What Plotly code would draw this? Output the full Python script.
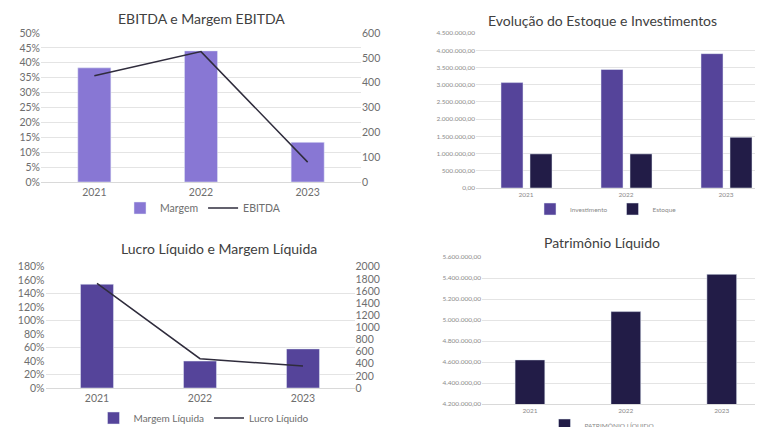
import plotly.graph_objects as go

W, H = 763, 427

# ---- data ----
years = ["2021", "2022", "2023"]
margem_ebitda = [0.383, 0.44, 0.133]
ebitda = [428, 525, 80]

investimento = [3060000, 3440000, 3900000]
estoque = [990000, 990000, 1470000]

margem_liquida = [1.54, 0.40, 0.58]
lucro_liquido = [1726, 483, 363]

patrimonio = [4620000, 5080000, 5435000]

pct_ticks_1 = [i / 100 for i in range(0, 55, 5)]
pct_ticks_3 = [i / 100 for i in range(0, 200, 20)]

OFF = 8  # page body margin


def px(x):
    return (x - OFF) / W


def py(y):
    return 1 - (y - OFF) / H


GRID = "#e4e4e4"
TICK = "#6e6e6e"
TITLE = "#404040"
FONT = "Lato"

C_LIGHT = "#8877d4"
C_MID = "#55449a"
C_DARK = "#221c47"
C_LINE = "#2f2c3c"

fig = go.Figure()

# Chart 1
fig.add_trace(go.Bar(x=years, y=margem_ebitda, name="Margem", marker_color=C_LIGHT,
                     width=0.31, xaxis="x", yaxis="y", legend="legend"))
fig.add_trace(go.Scatter(x=years, y=ebitda, name="EBITDA", mode="lines",
                         line=dict(color=C_LINE, width=1.5), xaxis="x", yaxis="y2", legend="legend"))

# Chart 2
fig.add_trace(go.Bar(x=years, y=investimento, name="Investimento", marker_color=C_MID,
                     width=0.22, offset=-0.25, xaxis="x2", yaxis="y3", legend="legend2"))
fig.add_trace(go.Bar(x=years, y=estoque, name="Estoque", marker_color=C_DARK,
                     width=0.22, offset=0.04, xaxis="x2", yaxis="y3", legend="legend2"))

# Chart 3
fig.add_trace(go.Bar(x=years, y=margem_liquida, name="Margem Líquida", marker_color=C_MID,
                     width=0.32, xaxis="x3", yaxis="y4", legend="legend3"))
fig.add_trace(go.Scatter(x=years, y=lucro_liquido, name="Lucro Líquido", mode="lines",
                         line=dict(color=C_LINE, width=1.5), xaxis="x3", yaxis="y5", legend="legend3"))

# Chart 4
fig.add_trace(go.Bar(x=years, y=patrimonio, name="PATRIMÔNIO LÍQUIDO", marker_color=C_DARK,
                     width=0.31, xaxis="x4", yaxis="y6", legend="legend4"))

small = dict(family=FONT, size=6.5, color="#8a8a8a")
norm = dict(family=FONT, size=10.5, color=TICK)

layout = dict(
    width=W, height=H, margin=dict(l=0, r=0, t=0, b=0, autoexpand=False),
    paper_bgcolor="white", plot_bgcolor="white",
    separators=",.",
    font=dict(family=FONT, color=TICK),
    # chart 1
    xaxis=dict(domain=[px(41), px(361)], anchor="y", range=[-0.5, 2.5], type="category",
               showline=True, linecolor="#d9d9d9", tickfont=norm, ticks="", showgrid=False,
               automargin=False),
    yaxis=dict(domain=[py(182), py(33)], anchor="x", range=[0, 0.5], tickvals=pct_ticks_1,
               tickformat=".0%", tickfont=norm, gridcolor=GRID, zeroline=False, ticks="",
               automargin=False),
    yaxis2=dict(overlaying="y", side="right", anchor="x", range=[0, 600], dtick=100,
                tickfont=norm, showgrid=False, zeroline=False, automargin=False),
    # chart 2
    xaxis2=dict(domain=[px(476), px(763)], anchor="y3", range=[-0.5, 2.37], type="category",
                showline=True, linecolor="#d9d9d9", tickfont=small, showgrid=False,
                automargin=False),
    yaxis3=dict(domain=[py(188), py(33)], anchor="x2", range=[0, 4500000], dtick=500000,
                tickformat=",.2f", tickfont=small, gridcolor=GRID, zeroline=False,
                automargin=False),
    # chart 3
    xaxis3=dict(domain=[px(45.5), px(354.5)], anchor="y4", range=[-0.5, 2.5], type="category",
                showline=True, linecolor="#d9d9d9", tickfont=norm, showgrid=False,
                automargin=False),
    yaxis4=dict(domain=[py(388), py(266.7)], anchor="x3", range=[0, 1.8], tickvals=pct_ticks_3,
                tickformat=".0%", tickfont=norm, showgrid=False, zeroline=False,
                minor=dict(tickvals=[0.2, 0.6, 1.0, 1.4], showgrid=True, gridcolor=GRID, ticks=""),
                automargin=False),
    yaxis5=dict(overlaying="y4", side="right", anchor="x3", range=[0, 2000], dtick=200,
                tickformat="d", tickfont=norm, showgrid=False, zeroline=False,
                automargin=False),
    # chart 4
    xaxis4=dict(domain=[px(482), px(763)], anchor="y6", range=[-0.5, 2.43], type="category",
                showline=True, linecolor="#d9d9d9", tickfont=small, showgrid=False,
                automargin=False),
    yaxis6=dict(domain=[py(404), py(257)], anchor="x4", range=[4200000, 5600000], dtick=200000,
                tickformat=",.2f", tickfont=small, gridcolor=GRID, zeroline=False,
                automargin=False),
    legend=dict(orientation="h", x=px(203), y=py(208), xanchor="center", yanchor="middle",
                font=dict(family=FONT, size=10.5, color=TICK), bgcolor="rgba(0,0,0,0)",
                itemwidth=30, tracegroupgap=0),
    legend2=dict(orientation="h", x=px(606), y=py(209), xanchor="center", yanchor="middle",
                 font=dict(family=FONT, size=6.5, color="#8a8a8a"), bgcolor="rgba(0,0,0,0)",
                 itemwidth=30),
    legend3=dict(orientation="h", x=px(204), y=py(418), xanchor="center", yanchor="middle",
                 font=dict(family=FONT, size=10, color=TICK), bgcolor="rgba(0,0,0,0)",
                 itemwidth=30),
    legend4=dict(orientation="h", x=px(602), y=py(425), xanchor="center", yanchor="middle",
                 font=dict(family=FONT, size=6.5, color="#8a8a8a"), bgcolor="rgba(0,0,0,0)",
                 itemwidth=30),
    annotations=[
        dict(text="EBITDA e Margem EBITDA", x=px(201), y=py(18), xref="paper", yref="paper",
             xanchor="center", yanchor="middle",
             showarrow=False, font=dict(family=FONT, size=14, color=TITLE)),
        dict(text="Evolução do Estoque e Investimentos", x=px(602), y=py(20), xref="paper", yref="paper",
             xanchor="center", yanchor="middle",
             showarrow=False, font=dict(family=FONT, size=14, color=TITLE)),
        dict(text="Lucro Líquido e Margem Líquida", x=px(219), y=py(249), xref="paper", yref="paper",
             xanchor="center", yanchor="middle",
             showarrow=False, font=dict(family=FONT, size=14, color=TITLE)),
        dict(text="Patrimônio Líquido", x=px(602), y=py(243), xref="paper", yref="paper",
             xanchor="center", yanchor="middle",
             showarrow=False, font=dict(family=FONT, size=14, color=TITLE)),
    ],
)
fig.update_layout(**layout)
fig.write_html("out.html")
